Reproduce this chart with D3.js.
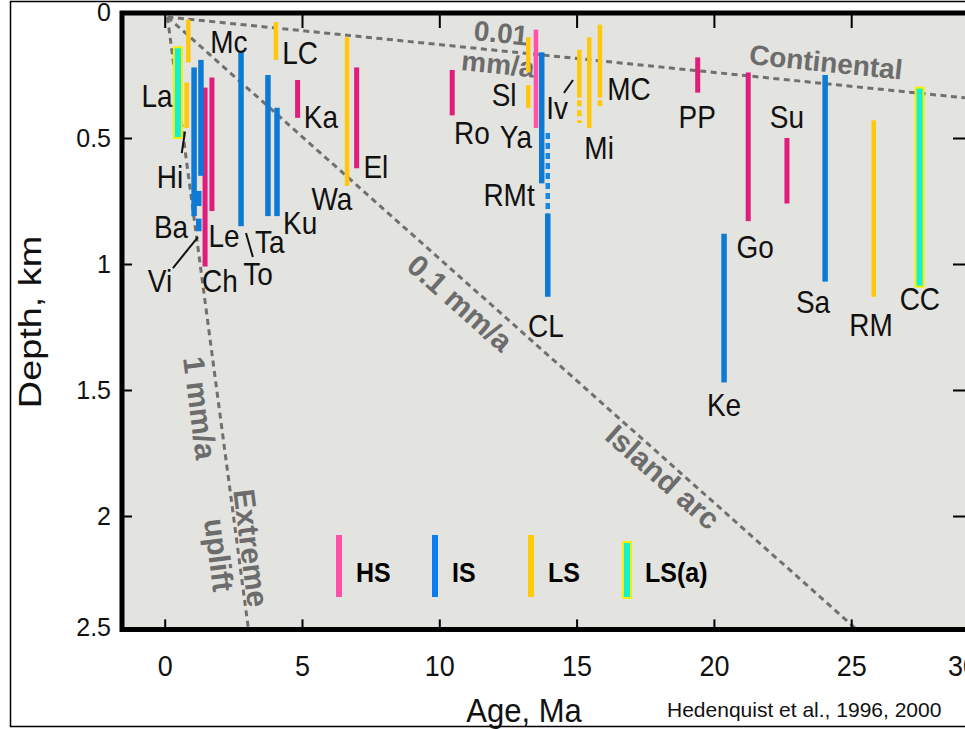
<!DOCTYPE html>
<head>
    <meta charset="utf-8">
    <script src="https://d3js.org/d3.v7.min.js"></script>
    <style>
        body {
            margin: 0;
            background: #fff;
            font-family: Arial, "Liberation Sans", sans-serif;
        }
        svg { display: block; }
        .lbl { font-size: 28px; fill: #111; }
        .guide { fill: none; stroke: #707070; stroke-width: 3; stroke-dasharray: 6,4.5; }
        .guide-text { fill: #6c6c6c; font-weight: bold; }
        .tick line { stroke: #000; stroke-width: 2; }
        .legend text { font-size: 25px; font-weight: bold; fill: #000; }
    </style>
</head>

<body>
<div id="vis"></div>

<script>
    var W = 965, H = 729;

    // ---- data (age Ma, top depth km, bottom depth km) ----
    var hsBars = [
        [1.47, 0.30, 1.01], [1.72, 0.26, 0.79], [4.84, 0.27, 0.42], [6.99, 0.22, 0.62],
        [10.47, 0.23, 0.41], [19.41, 0.18, 0.32], [21.25, 0.24, 0.83], [22.66, 0.50, 0.76]
    ];
    var hsPaleBars = [[13.52, 0.07, 0.46]];
    var isBars = [
        [1.07, 0.22, 0.81], [1.24, 0.71, 0.77], [1.24, 0.82, 0.87], [1.32, 0.19, 0.65],
        [2.78, 0.16, 0.85], [3.76, 0.25, 0.81], [4.09, 0.38, 0.81], [13.73, 0.16, 0.68],
        [13.95, 0.80, 1.13], [20.37, 0.88, 1.47], [24.05, 0.25, 1.07]
    ];
    var isDashed = [[13.95, 0.48, 0.80]];
    var lsBars = [
        [0.86, 0.03, 0.20], [0.80, 0.28, 0.46], [4.05, 0.04, 0.19], [6.64, 0.10, 0.69],
        [13.24, 0.10, 0.24], [13.24, 0.29, 0.38], [15.10, 0.15, 0.34], [15.46, 0.10, 0.46],
        [15.85, 0.05, 0.34], [25.82, 0.43, 1.13]
    ];
    var lsDashed = [[15.10, 0.35, 0.44], [15.85, 0.35, 0.38]];
    var lsaBars = [[0.48, 0.14, 0.50], [27.49, 0.30, 1.09]];

    // deposit names and where they sit (age, depth)
    var depositLabels = [
        ["La", -0.28, 0.333], ["Mc", 2.34, 0.119], ["LC", 4.93, 0.163], ["Ka", 5.69, 0.417],
        ["Hi", 0.19, 0.655], ["Ba", 0.23, 0.853], ["Le", 2.16, 0.889], ["Ta", 3.83, 0.913],
        ["Ku", 4.93, 0.837], ["Vi", -0.17, 1.067], ["Ch", 2.01, 1.067], ["To", 3.40, 1.040],
        ["Wa", 6.09, 0.742], ["El", 7.69, 0.615], ["Ro", 11.19, 0.480], ["Sl", 12.36, 0.329],
        ["Ya", 12.79, 0.496], ["Iv", 14.29, 0.381], ["MC", 16.91, 0.306], ["Mi", 15.82, 0.540],
        ["RMt", 12.54, 0.726], ["CL", 13.88, 1.246], ["PP", 19.39, 0.417], ["Su", 22.66, 0.417],
        ["Go", 21.5, 0.933], ["Sa", 23.61, 1.151], ["RM", 25.72, 1.242], ["CC", 27.5, 1.139],
        ["Ke", 20.37, 1.56]
    ];
    // leader lines: age1, depth1, age2, depth2
    var pointers = [
        [0.62, 0.56, 0.74, 0.475], [0.30, 1.016, 1.21, 0.893],
        [2.96, 0.877, 3.21, 0.972], [14.54, 0.321, 14.87, 0.270]
    ];

    // uplift-rate guide lines
    var continentalLine = [[0.1, 0.02], [30, 0.35]];
    var islandArcLine = [[0.1, 0.02], [25.2, 2.45]];
    var extremeLine = [[0.1, 0.02], [3.05, 2.45]];

    var xTicks = [0, 5, 10, 15, 20, 25, 30];
    var yTicks = [0, 0.5, 1, 1.5, 2, 2.5];
    var legendKeys = ["HS", "IS", "LS", "LS(a)"];

    // ---- scales ----
    var x = d3.scaleLinear().domain([0, 30]).range([164.7, 988.5]);
    var y = d3.scaleLinear().domain([0, 2.5]).range([12, 642]);

    var plotL = 122, plotT = 13, plotR = 975, plotB = y(2.45);

    var svg = d3.select("#vis")
        .append("svg")
        .attr("width", W)
        .attr("height", H);

    // outer border
    svg.append("rect")
        .attr("x", 10.5).attr("y", 1.5)
        .attr("width", 1000).attr("height", 725)
        .attr("fill", "#fff").attr("stroke", "#000").attr("stroke-width", 1.5);

    // plot background
    svg.append("rect")
        .attr("x", plotL).attr("y", plotT)
        .attr("width", plotR - plotL).attr("height", plotB - plotT)
        .attr("fill", "#e3e3df");

    ////////// guide lines //////////
    var line = d3.line()
        .x(function(d) { return x(d[0]); })
        .y(function(d) { return y(d[1]); });

    [continentalLine, islandArcLine, extremeLine].forEach(function(l) {
        svg.append("path").attr("class", "guide").attr("d", line(l));
    });

    function guideText(txt, px, py, angle, size) {
        svg.append("text")
            .attr("class", "guide-text")
            .attr("text-anchor", "middle")
            .attr("dy", "0.35em")
            .attr("font-size", size + "px")
            .attr("transform", "translate(" + px + "," + py + ") rotate(" + angle + ")")
            .text(txt);
    }
    guideText("0.01", 501, 33, 5.8, 28);
    guideText("mm/a", 498, 64, 5.8, 28);
    guideText("Continental", 826, 62, 5.8, 28);
    guideText("0.1 mm/a", 460, 303, 41.5, 30);
    guideText("Island arc", 663, 477, 41.5, 30);
    guideText("1 mm/a", 200, 408, 82.8, 30);
    guideText("Extreme", 251, 548, 82.8, 30);
    guideText("uplift", 219, 555, 82.8, 30);

    ////////// bars //////////
    function drawBars(data, color, w, stroke) {
        svg.append("g").selectAll("rect")
            .data(data)
            .enter()
            .append("rect")
            .attr("x", function(d) { return x(d[0]) - w / 2; })
            .attr("y", function(d) { return y(d[1]); })
            .attr("width", w)
            .attr("height", function(d) { return y(d[2]) - y(d[1]); })
            .attr("fill", color)
            .attr("stroke", stroke || "none")
            .attr("stroke-width", stroke ? 2 : 0);
    }
    function drawDashed(data, color, w) {
        svg.append("g").selectAll("line")
            .data(data)
            .enter()
            .append("line")
            .attr("x1", function(d) { return x(d[0]); })
            .attr("x2", function(d) { return x(d[0]); })
            .attr("y1", function(d) { return y(d[1]); })
            .attr("y2", function(d) { return y(d[2]); })
            .attr("stroke", color)
            .attr("stroke-width", w)
            .attr("stroke-dasharray", "6,4");
    }

    drawBars(hsBars, "#e01c7c", 5);
    drawBars(hsPaleBars, "#ff52a8", 4.5);
    drawBars(isBars, "#0d7bd6", 5.5);
    drawDashed(isDashed, "#1a86e0", 4.5);
    drawBars(lsBars, "#ffc80a", 4.5);
    drawDashed(lsDashed, "#ffc80a", 4.5);
    drawBars(lsaBars, "#14f0d2", 8, "#f5f000");

    ////////// labels //////////
    // the source figure is slightly stretched vertically, so labels get a small y-scale
    svg.append("g").selectAll("text")
        .data(depositLabels)
        .enter()
        .append("text")
        .attr("class", "lbl")
        .attr("text-anchor", "middle")
        .attr("dy", "0.35em")
        .attr("transform", function(d) { return "translate(" + x(d[1]) + "," + y(d[2]) + ") scale(1,1.12)"; })
        .text(function(d) { return d[0]; });

    svg.append("g").selectAll("line")
        .data(pointers)
        .enter()
        .append("line")
        .attr("x1", function(d) { return x(d[0]); })
        .attr("y1", function(d) { return y(d[1]); })
        .attr("x2", function(d) { return x(d[2]); })
        .attr("y2", function(d) { return y(d[3]); })
        .attr("stroke", "#111")
        .attr("stroke-width", 2);

    ////////// legend //////////
    var legendColors = ["#ff50a8", "#0b7cf2", "#ffcc00", "#14f0d2"];
    var lg = svg.append("g").attr("class", "legend");
    legendKeys.forEach(function(k, i) {
        var cx = 339 + i * 96;
        var isA = (k === "LS(a)");
        lg.append("rect")
            .attr("x", cx - (isA ? 4 : 3))
            .attr("y", isA ? 542 : 535)
            .attr("width", isA ? 8 : 6)
            .attr("height", isA ? 56 : 62)
            .attr("fill", legendColors[i])
            .attr("stroke", isA ? "#f5f000" : "none")
            .attr("stroke-width", isA ? 2 : 0);
        lg.append("text")
            .attr("transform", "translate(" + (cx + (isA ? 18 : 17)) + ",572) scale(1,1.1)")
            .attr("dy", "0.35em")
            .text(k);
    });

    ////////// axes //////////
    var fmt = function(d) { return String(d); };

    var xAxis = svg.append("g")
        .attr("transform", "translate(0," + plotB + ")")
        .call(d3.axisBottom(x).tickValues(xTicks).tickFormat(fmt).tickSize(-10).tickPadding(22));
    xAxis.selectAll("text").attr("font-size", "27px").attr("font-family", "Arial, 'Liberation Sans', sans-serif")
        .attr("fill", "#111").attr("transform", "scale(1,1.12)");
    xAxis.selectAll(".tick").filter(function(d) { return d === 30; }).select("text").attr("x", -26);
    xAxis.selectAll(".tick").filter(function(d) { return d === 30; }).select("line").remove();

    var yAxis = svg.append("g")
        .attr("transform", "translate(" + plotL + ",0)")
        .call(d3.axisLeft(y).tickValues(yTicks).tickFormat(fmt).tickSize(-10).tickPadding(11));
    yAxis.selectAll("text").attr("font-size", "25px").attr("font-family", "Arial, 'Liberation Sans', sans-serif").attr("fill", "#111");
    yAxis.selectAll(".tick").filter(function(d) { return d === 0 || d === 2.5; }).select("line").remove();
    yAxis.selectAll(".tick").filter(function(d) { return d === 2.5; }).select("text").attr("y", -15);

    var topAxis = svg.append("g")
        .attr("transform", "translate(0," + plotT + ")")
        .call(d3.axisTop(x).tickValues([0, 5, 10, 15, 20, 25]).tickSize(-15).tickFormat(""));
    var rightAxis = svg.append("g")
        .attr("transform", "translate(" + plotR + ",0)")
        .call(d3.axisRight(y).tickValues([0.5, 1, 1.5, 2]).tickSize(-22).tickFormat(""));

    [xAxis, yAxis, topAxis, rightAxis].forEach(function(a) { a.select(".domain").remove(); });

    // frame
    svg.append("path")
        .attr("d", "M" + plotR + "," + plotT + "H" + plotL + "V" + plotB + "H" + plotR)
        .attr("fill", "none")
        .attr("stroke", "#000")
        .attr("stroke-width", 5)
        .attr("stroke-linecap", "square");

    // axis titles
    svg.append("text")
        .attr("transform", "translate(30,322) rotate(-90) scale(1.22,1)")
        .attr("text-anchor", "middle")
        .attr("dy", "0.35em")
        .attr("font-size", "31px")
        .attr("fill", "#111")
        .text("Depth, km");
    svg.append("text")
        .attr("transform", "translate(524,710) scale(1,1.1)")
        .attr("text-anchor", "middle")
        .attr("dy", "0.35em")
        .attr("font-size", "31px")
        .attr("fill", "#111")
        .text("Age, Ma");
    svg.append("text")
        .attr("x", 667).attr("y", 710)
        .attr("dy", "0.35em")
        .attr("font-size", "21px")
        .attr("fill", "#111")
        .text("Hedenquist et al., 1996, 2000");
</script>
</body>
